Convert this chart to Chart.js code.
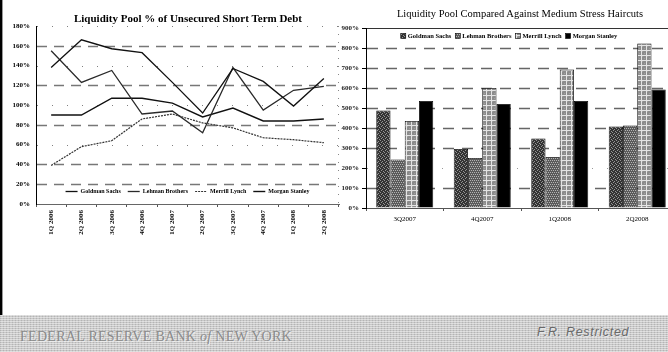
<!DOCTYPE html>
<html>
<head>
<meta charset="utf-8">
<script src="https://cdn.jsdelivr.net/npm/chart.js@4.4.0/dist/chart.umd.min.js"></script>
<style>
    html, body { margin: 0; padding: 0; }
    body { width: 668px; height: 352px; overflow: hidden; position: relative; background: #fff; }
    #edge { position: absolute; left: 0; top: 0; width: 2px; height: 315px; background: #000; border-right: 1px solid #999; }
    #leftCanvas { position: absolute; left: 0; top: 0; }
    #rightCanvas { position: absolute; left: 336px; top: 0; }
    .title { position: absolute; text-align: center; white-space: nowrap; font-family: "Liberation Serif", serif; color: #000; line-height: 13px; }
    #leftTitle { left: 37px; width: 302px; top: 12px; font-size: 11px; font-weight: bold; }
    #rightTitle { left: 380px; width: 280px; top: 7px; font-size: 10.5px; }
    #footer {
        position: absolute; left: 0; top: 315px; width: 668px; height: 37px;
        background-color: #c8c8c8;
        background-image:
            repeating-linear-gradient(0deg, rgba(255,255,255,0.45) 0 1px, transparent 1px 2px),
            repeating-linear-gradient(90deg, rgba(0,0,0,0.10) 0 1px, transparent 1px 3px);
    }
    #fed { position: absolute; left: 20px; top: 15px; font-family: "Liberation Serif", serif; font-size: 14px; line-height: 1; letter-spacing: 0.3px; color: #8a8a8a; text-shadow: 1px 1px 0 #eee; white-space: nowrap; }
    #restricted { position: absolute; left: 537px; top: 11px; font-family: "Liberation Sans", sans-serif; font-style: italic; font-size: 12.5px; line-height: 1; letter-spacing: 0.7px; color: #6a6a6a; text-shadow: 1px 1px 0 #e6e6e6; white-space: nowrap; }
</style>
</head>
<body>
<div id="edge"></div>
<canvas id="leftCanvas" width="340" height="250"></canvas>
<canvas id="rightCanvas" width="345" height="250"></canvas>
<div class="title" id="leftTitle">Liquidity Pool % of Unsecured Short Term Debt</div>
<div class="title" id="rightTitle">Liquidity Pool Compared Against Medium Stress Haircuts</div>
<div id="footer">
    <div id="fed">FEDERAL RESERVE BANK <i>of</i> NEW YORK</div>
    <div id="restricted">F.R. Restricted</div>
</div>
<script>
// Left chart: liquidity pool as % of unsecured short term debt
const quarters = ['1Q 2006', '2Q 2006', '3Q 2006', '4Q 2006', '1Q 2007', '2Q 2007', '3Q 2007', '4Q 2007', '1Q 2008', '2Q 2008'];
const goldmanPool = [138, 166, 157, 153, 123, 92, 137, 124, 99, 127];
const lehmanPool = [155, 123, 135, 91, 94, 72, 138, 95, 115, 119];
const merrillPool = [39, 58, 64, 86, 91, 82, 77, 67, 65, 62];
const morganPool = [90, 90, 107, 107, 102, 88, 97, 84, 84, 86];

// Right chart: liquidity pool vs medium stress haircuts
const haircutQuarters = ['3Q2007', '4Q2007', '1Q2008', '2Q2008'];
const goldmanHaircut = [488, 295, 348, 408];
const lehmanHaircut = [243, 250, 255, 412];
const merrillHaircut = [435, 600, 692, 822];
const morganHaircut = [535, 520, 535, 593];

const serif = '"Liberation Serif", serif';

// hatch fills for the bars
function makePattern(size, draw) {
    const c = document.createElement('canvas');
    c.width = size;
    c.height = size;
    const g = c.getContext('2d');
    draw(g);
    return g.createPattern(c, 'repeat');
}

const goldmanFill = makePattern(4, g => {
    g.fillStyle = '#333';
    g.fillRect(0, 0, 4, 4);
    g.fillStyle = '#949494';
    g.fillRect(0, 0, 1, 1);
    g.fillRect(2, 1, 1, 1);
    g.fillRect(1, 2, 1, 1);
    g.fillRect(3, 3, 1, 1);
});
const lehmanFill = makePattern(4, g => {
    g.fillStyle = '#5a5a5a';
    g.fillRect(0, 0, 4, 4);
    g.fillStyle = '#b4b4b4';
    g.fillRect(0, 0, 1, 1);
    g.fillRect(2, 0, 1, 1);
    g.fillRect(1, 2, 1, 1);
    g.fillRect(3, 2, 1, 1);
});
const merrillFill = makePattern(5, g => {
    g.fillStyle = '#8c8c8c';
    g.fillRect(0, 0, 5, 5);
    g.fillStyle = '#a0a0a0';
    g.fillRect(1, 1, 1, 1);
    g.fillRect(3, 3, 1, 1);
    g.fillStyle = '#e4e4e4';
    g.fillRect(0, 0, 5, 1);
    g.fillRect(0, 0, 1, 5);
});

// custom grid lines, each value with its own dash style
// (built per chart so the specs stay plain arrays)
function makeGridPlugin(lines, rightBorder) {
    return {
        id: 'styledGrid',
        beforeDatasetsDraw(chart) {
            const ctx = chart.ctx;
            const area = chart.chartArea;
            const y = chart.scales.y;
            ctx.save();
            ctx.lineCap = 'butt';
            lines.forEach(l => {
                const py = Math.round(y.getPixelForValue(l.value)) + 0.5;
                ctx.beginPath();
                ctx.setLineDash(l.dash.slice());
                ctx.strokeStyle = l.color;
                ctx.lineWidth = l.width;
                ctx.moveTo(area.left + 1, py);
                ctx.lineTo(area.right, py);
                ctx.stroke();
            });
            if (rightBorder) {
                const px = Math.round(area.right) - 0.5;
                ctx.beginPath();
                ctx.setLineDash(rightBorder.dash.slice());
                ctx.strokeStyle = rightBorder.color;
                ctx.lineWidth = 1;
                ctx.moveTo(px, area.top);
                ctx.lineTo(px, area.bottom);
                ctx.stroke();
            }
            ctx.restore();
        }
    };
}

// small legend drawn inside the plot area
function makeLegendPlugin(opts) {
    return {
        id: 'inlineLegend',
        afterDatasetsDraw(chart) {
            const ctx = chart.ctx;
            const area = chart.chartArea;
            ctx.save();
            ctx.font = opts.font;
            ctx.textBaseline = 'middle';
            ctx.textAlign = 'left';
            const items = chart.data.datasets.map(ds => ({
                ds: ds,
                w: opts.sample + opts.gap + ctx.measureText(ds.label).width
            }));
            const total = items.reduce((s, it) => s + it.w, 0) + opts.spacing * (items.length - 1);
            let x = (area.left + area.right) / 2 + (opts.shift || 0) - total / 2;
            const y = opts.fromBottom ? area.bottom - opts.fromBottom : area.top + opts.fromTop;
            items.forEach(it => {
                if (opts.kind === 'line') {
                    ctx.beginPath();
                    ctx.setLineDash(it.ds.borderDash ? it.ds.borderDash.slice() : []);
                    ctx.strokeStyle = it.ds.borderColor;
                    ctx.lineWidth = it.ds.borderWidth;
                    ctx.moveTo(x, y + 0.5);
                    ctx.lineTo(x + opts.sample, y + 0.5);
                    ctx.stroke();
                    ctx.setLineDash([]);
                } else {
                    ctx.fillStyle = it.ds.backgroundColor;
                    ctx.fillRect(x, y - 2.5, opts.sample, 5);
                    ctx.strokeStyle = '#000';
                    ctx.lineWidth = 0.6;
                    ctx.strokeRect(x, y - 2.5, opts.sample, 5);
                }
                ctx.fillStyle = '#000';
                ctx.fillText(it.ds.label, x + opts.sample + opts.gap, y);
                x += it.w + opts.spacing;
            });
            ctx.restore();
        }
    };
}

const dashedGrey = { dash: [10, 7], color: '#777', width: 1.5 };
const dottedGrey = { dash: [1, 14], color: '#808080', width: 1 };

const leftGrid = makeGridPlugin([
    { value: 180, ...dottedGrey },
    { value: 160, ...dashedGrey },
    { value: 140, ...dottedGrey },
    { value: 120, ...dashedGrey },
    { value: 100, ...dottedGrey },
    { value: 80, ...dashedGrey },
    { value: 60, ...dottedGrey },
    { value: 40, ...dashedGrey },
    { value: 20, ...dashedGrey }
], { dash: [1, 7], color: '#888' });

new Chart(document.getElementById('leftCanvas'), {
    type: 'line',
    data: {
        labels: quarters,
        datasets: [
            { label: 'Goldman Sachs', data: goldmanPool, borderColor: '#111', borderWidth: 1.3 },
            { label: 'Lehman Brothers', data: lehmanPool, borderColor: '#2a2a2a', borderWidth: 1.3 },
            { label: 'Merrill Lynch', data: merrillPool, borderColor: '#333', borderWidth: 1.2, borderDash: [2, 1] },
            { label: 'Morgan Stanley', data: morganPool, borderColor: '#111', borderWidth: 1.4 }
        ]
    },
    options: {
        responsive: false,
        animation: false,
        layout: { padding: { top: 26, right: 1, left: 0, bottom: 0 } },
        elements: { point: { radius: 0 }, line: { tension: 0 } },
        plugins: {
            legend: { display: false },
            tooltip: { enabled: false }
        },
        scales: {
            x: {
                type: 'category',
                offset: true,
                afterFit: s => { s.height = 46; },
                grid: { drawOnChartArea: false, drawTicks: true, tickLength: 3, offset: true, color: '#555' },
                border: { color: '#666', width: 1 },
                ticks: { autoSkip: false, minRotation: 90, maxRotation: 90, padding: 3, color: '#000', font: { family: serif, size: 7, weight: 'bold' } }
            },
            y: {
                min: 0, max: 180,
                afterFit: s => { s.width = 36; },
                grid: { drawOnChartArea: false, drawTicks: false },
                border: { color: '#000', width: 1 },
                ticks: { stepSize: 20, padding: 6, color: '#000', font: { family: serif, size: 7, weight: 'bold' }, callback: v => v + '%' }
            }
        }
    },
    plugins: [leftGrid, makeLegendPlugin({
        kind: 'line', font: 'bold 6px ' + serif,
        sample: 12, gap: 3, spacing: 7, fromBottom: 13
    })]
});

const barDashed = { dash: [11, 8], color: '#666', width: 1.5 };

const rightGrid = makeGridPlugin([
    { value: 900, dash: [], color: '#333', width: 1.2 },
    { value: 800, ...barDashed },
    { value: 700, ...barDashed },
    { value: 600, ...barDashed },
    { value: 500, ...barDashed },
    { value: 400, ...barDashed },
    { value: 300, ...barDashed },
    { value: 200, dash: [1, 14], color: '#999', width: 1 },
    { value: 100, ...barDashed }
], null);

new Chart(document.getElementById('rightCanvas'), {
    type: 'bar',
    data: {
        labels: haircutQuarters,
        datasets: [
            { label: 'Goldman Sachs', data: goldmanHaircut, backgroundColor: goldmanFill },
            { label: 'Lehman Brothers', data: lehmanHaircut, backgroundColor: lehmanFill },
            { label: 'Merrill Lynch', data: merrillHaircut, backgroundColor: merrillFill },
            { label: 'Morgan Stanley', data: morganHaircut, backgroundColor: '#000' }
        ]
    },
    options: {
        responsive: false,
        animation: false,
        layout: { padding: { top: 28, right: 5, left: 0, bottom: 0 } },
        datasets: {
            bar: { categoryPercentage: 0.735, barPercentage: 1, borderColor: '#000', borderWidth: 0.8 }
        },
        plugins: {
            legend: { display: false },
            tooltip: { enabled: false }
        },
        scales: {
            x: {
                afterFit: s => { s.height = 42; },
                grid: { drawOnChartArea: false, drawTicks: true, tickLength: 3, offset: true, color: '#555' },
                border: { color: '#555', width: 1 },
                ticks: { padding: 4, color: '#000', font: { family: serif, size: 7 } }
            },
            y: {
                min: 0, max: 900,
                afterFit: s => { s.width = 30; },
                grid: { drawOnChartArea: false, drawTicks: true, tickLength: 4, color: '#000' },
                border: { color: '#000', width: 1 },
                ticks: { stepSize: 100, padding: 3, color: '#222', font: { family: serif, size: 7, weight: 'bold' }, callback: v => v + '%' }
            }
        }
    },
    plugins: [rightGrid, makeLegendPlugin({
        kind: 'box', font: 'bold 6.5px ' + serif,
        sample: 5, gap: 2, spacing: 4, fromTop: 8, shift: -12
    })]
});
</script>
</body>
</html>
